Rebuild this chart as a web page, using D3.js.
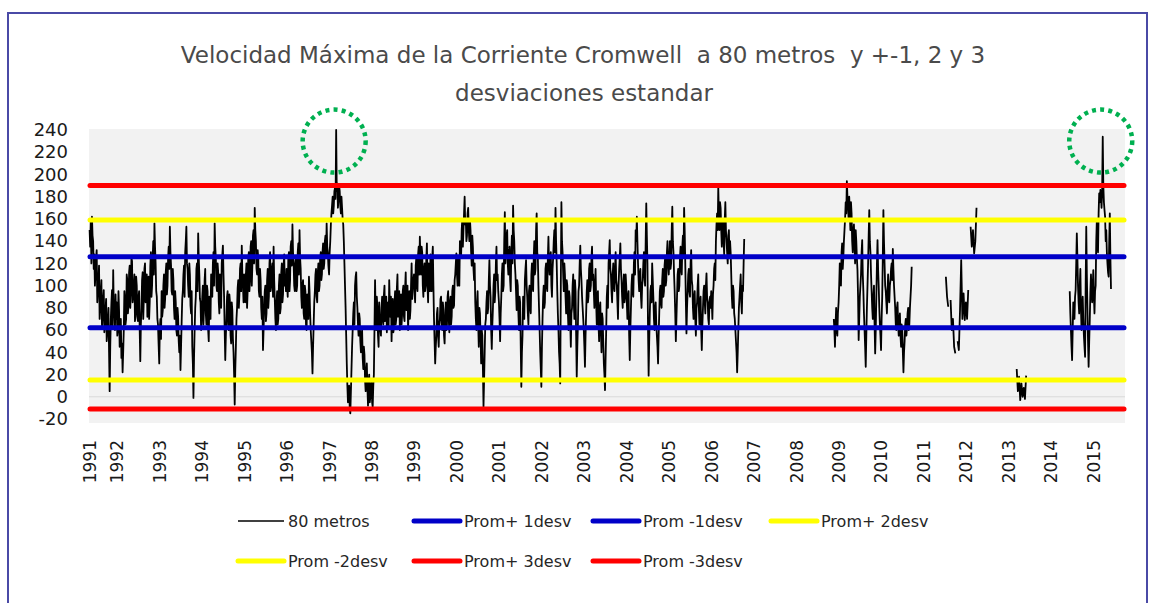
<!DOCTYPE html>
<html>
<head>
<meta charset="utf-8">
<script src="https://cdn.jsdelivr.net/npm/d3@7/dist/d3.min.js"></script>
<style>
body { margin: 0; background: #fff; }
svg { display: block; }
</style>
</head>
<body>
<div id="chart"></div>
<script>
// velocidad maxima a 80 m, 36 valores por año (aprox. cada 10 dias), null = sin dato
var v1991 = [null,null,null,null,null,null,null,null,null,null,null,null,null,
	150,158,162,140,128,110,132,95,118,80,105,72,96,66,88,58,80,5,70,96,114,75,92];
var v1992 = [85,60,78,50,35,22,60,88,70,105,82,118,95,122,90,110,75,100,68,95,32,80,112,88,120,95,72,108,85,130,100,140,156,120,90,65];
var v1993 = [30,70,95,78,110,88,120,100,135,153,118,92,105,70,85,55,72,40,24,68,95,118,130,153,115,90,110,75,45,-1,60,90,120,147,110,85];
var v1994 = [70,100,80,115,65,95,50,85,110,90,130,156,125,95,112,75,100,120,136,90,33,70,95,60,85,48,78,40,-7,45,80,105,92,120,136,100];
var v1995 = [110,85,120,95,130,105,140,118,150,170,140,110,125,90,105,70,42,80,100,75,115,90,130,100,120,135,88,60,95,70,110,80,120,92,128,105];
var v1996 = [115,90,130,105,140,155,120,95,125,100,138,150,115,80,105,70,95,60,88,108,75,50,21,65,95,115,85,120,100,130,110,138,120,145,156,130];
var v1997 = [110,140,165,180,172,188,240,192,178,185,165,170,155,120,80,30,-5,10,-15,25,60,85,100,112,80,55,70,40,60,25,38,5,30,-8,20,0];
var v1998 = [15,-9,20,105,60,80,45,70,55,90,65,100,75,58,85,105,72,50,88,62,95,70,110,80,60,92,75,100,68,112,85,60,95,78,120,100];
var v1999 = [110,85,125,95,135,144,110,130,90,120,100,138,85,115,128,95,135,70,30,55,80,45,70,90,60,78,48,85,65,95,58,90,72,100,82,110];
var v2000 = [129,100,115,140,125,160,150,180,160,145,170,140,150,118,135,105,85,60,95,45,75,30,55,-9,40,70,95,80,123,90,43,80,110,95,135,110];
var v2001 = [85,50,90,120,100,166,130,150,110,135,95,145,172,140,110,78,100,60,85,9,55,85,105,123,90,65,100,75,120,95,140,115,165,125,80,40];
var v2002 = [9,70,100,85,120,95,144,110,130,90,125,150,170,120,75,40,12,175,130,95,110,75,100,60,90,45,80,110,70,95,18,65,100,136,105,80];
var v2003 = [60,27,75,105,90,120,100,135,110,80,115,65,95,50,85,40,70,30,6,60,100,120,141,110,85,120,95,130,100,70,115,138,105,80,110,90];
var v2004 = [100,70,95,33,80,110,90,130,150,162,120,95,115,80,105,130,100,174,120,19,75,100,120,90,60,85,55,30,75,100,80,115,95,125,105,140];
var v2005 = [110,140,120,171,130,95,50,90,115,100,135,110,145,170,120,57,95,115,90,132,100,70,95,55,85,110,65,90,42,80,100,75,111,85,65,90];
var v2006 = [95,70,100,120,140,165,188,150,170,135,160,128,175,140,120,150,140,110,80,95,70,50,22,60,90,110,75,95,142,
	null,null,null,null,null,null,null];
var v2007 = [];
var v2008 = [null,null,null,null,null,null,null,null,null,null,null,null,null,null,null,null,
	null,null,null,null,null,null,null,null,null,null,null,null,null,null,null,null,70,45,80,55];
var v2009 = [85,120,100,138,125,150,175,194,170,180,150,165,130,155,120,140,114,51,90,110,141,95,60,27,80,120,168,130,95,70,100,39,90,141,100,65];
var v2010 = [42,90,168,120,95,75,110,85,105,120,133,100,80,60,85,55,75,45,60,22,50,70,62,80,65,90,117,
	null,null,null,null,null,null,null,null,null];
var v2011 = [null,null,null,null,null,null,null,null,null,null,null,null,null,null,null,null,null,null,null,
	108,90,81,null,87,60,70,45,39,null,50,42,78,123,70,93,69];
var v2012 = [85,70,96,null,153,135,150,129,140,170,
	null,null,null,null,null,null,null,null,null,null,null,null,null,null,null,null,null,null,null,null,null,null,null,null,null,null];
var v2013 = [null,null,null,null,null,null,null,25,5,18,-3,12,0,8,-2,19,
	null,null,null,null,null,null,null,null,null,null,null,null,null,null,null,null,null,null,null,null];
var v2014 = [null,null,null,null,null,null,null,null,null,null,null,null,null,null,null,null,
	95,60,33,85,70,96,147,100,75,115,60,90,55,36,153,80,27,70,110,85];
var v2015 = [114,75,100,159,130,183,186,170,234,175,162,150,120,108,165,97,
	null,null,null,null,null,null,null,null,null,null,null,null,null,null,null,null,null,null,null,null];

// lecturas intermedias (medio paso despues de cada valor anterior)
var w1991 = [null,null,null,null,null,null,null,null,null,null,null,null,null,
	135,120,145,115,100,125,85,105,70,95,62,88,58,78,50,70,40,45,85,62,80,60,70];
var w1992 = [55,95,45,70,48,40,95,65,110,75,112,80,125,85,100,68,108,72,90,60,65,105,70,115,85,110,90,70,118,90,125,110,135,95,70,48];
var w1993 = [62,52,72,100,80,112,92,125,115,130,95,115,80,95,60,80,50,55,45,88,110,90,140,120,100,120,82,95,30,35,80,115,95,125,88,60];
var w1994 = [90,65,105,75,100,60,90,70,95,120,100,135,100,120,85,110,80,128,110,60,55,90,65,92,55,85,52,20,25,70,98,80,115,95,110,85];
var w1995 = [90,110,80,125,95,135,100,145,120,150,115,132,95,115,80,90,60,95,68,105,80,120,95,115,90,105,70,85,65,100,75,112,85,118,100,95];
var w1996 = [100,125,95,135,118,130,100,120,95,130,110,125,90,100,75,100,65,92,70,95,60,40,45,85,110,90,112,95,125,105,130,115,140,125,135,118];
var w1997 = [130,155,172,165,185,178,185,170,190,172,180,160,140,100,55,10,5,-10,5,45,75,65,108,90,65,75,50,55,35,45,15,22,8,12,-5,10];
var w1998 = [-5,10,60,75,90,55,85,62,80,70,92,68,90,80,62,85,90,75,58,85,65,98,72,95,80,65,95,72,98,78,100,82,70,100,88,105];
var w1999 = [95,118,100,128,110,125,135,100,115,95,125,100,120,95,110,125,100,50,45,75,55,65,88,65,85,55,70,60,90,70,85,65,95,80,105,120];
var w2000 = [110,125,100,130,150,135,165,155,140,165,150,160,130,145,115,120,70,85,65,80,55,60,25,15,65,85,75,105,100,60,65,100,85,120,105,95];
var w2001 = [70,75,110,95,140,120,145,120,130,105,130,120,150,120,95,105,75,90,45,40,90,70,115,100,75,95,80,110,100,125,110,150,130,100,60,25];
var w2002 = [45,90,80,115,100,125,120,125,100,115,140,130,140,95,60,30,100,140,110,120,90,105,75,95,65,75,100,85,105,55,45,95,120,115,90,70];
var w2003 = [45,55,95,85,115,95,125,105,95,100,85,90,65,80,60,75,50,20,35,90,80,130,115,95,110,100,115,105,85,100,125,115,90,100,85,110];
var w2004 = [85,90,55,60,100,95,120,110,140,140,105,110,90,100,120,110,140,145,60,50,95,85,105,70,80,65,45,55,95,85,105,90,118,100,130,120];
var w2005 = [125,115,150,140,110,75,70,110,95,125,115,135,125,150,85,80,110,95,120,105,80,90,70,80,100,80,85,60,65,95,85,100,90,70,85,80];
var w2006 = [85,92,115,105,155,150,165,175,150,160,140,160,150,130,145,125,130,90,100,75,60,40,40,80,100,85,100,120,
	null,null,null,null,null,null,null,null];
var w2007 = [];
var w2008 = [null,null,null,null,null,null,null,null,null,null,null,null,null,null,null,null,
	null,null,null,null,null,null,null,null,null,null,null,null,null,null,null,null,60,65,62,75];
var w2009 = [100,105,130,115,140,160,165,180,160,165,175,140,150,135,150,125,90,70,100,130,110,75,45,55,100,145,140,110,80,90,65,60,120,115,80,55];
var w2010 = [70,125,140,100,85,95,90,100,115,105,115,90,65,80,65,70,55,65,40,40,65,55,75,60,80,100,
	null,null,null,null,null,null,null,null,null,null];
var w2011 = [];
var w2012 = [];
var w2013 = [];
var w2014 = [null,null,null,null,null,null,null,null,null,null,null,null,null,null,null,null,
	75,45,60,75,90,120,125,85,100,80,75,70,45,100,110,50,50,95,95,100];
var w2015 = [90,95,140,140,165,175,180,185,190,168,140,130,112,140,125,
	null,null,null,null,null,null,null,null,null,null,null,null,null,null,null,null,null,null,null,null,null];

var anios = [1991,1992,1993,1994,1995,1996,1997,1998,1999,2000,2001,2002,2003,2004,2005,2006,2007,2008,2009,2010,2011,2012,2013,2014,2015];
var serie80m = [v1991,v1992,v1993,v1994,v1995,v1996,v1997,v1998,v1999,v2000,v2001,v2002,v2003,v2004,v2005,v2006,v2007,v2008,v2009,v2010,v2011,v2012,v2013,v2014,v2015];
var serieMedia = [w1991,w1992,w1993,w1994,w1995,w1996,w1997,w1998,w1999,w2000,w2001,w2002,w2003,w2004,w2005,w2006,w2007,w2008,w2009,w2010,w2011,w2012,w2013,w2014,w2015];

// niveles: Prom+1, Prom-1, Prom+2, Prom-2, Prom+3, Prom-3 desviaciones
var niveles = [126, 62, 159, 15, 190, -11];
var nombres = ["80 metros", "Prom+ 1desv", "Prom -1desv", "Prom+ 2desv", "Prom -2desv", "Prom+ 3desv", "Prom -3desv"];
var ticksY = [-20, 0, 20, 40, 60, 80, 100, 120, 140, 160, 180, 200, 220, 240];
var aniosPico = [1997, 2015];

var colores = ["#000000", "#0000c8", "#0000c8", "#ffff00", "#ffff00", "#ff0000", "#ff0000"];

var paso = 365.25 / 36;
var puntos = [];
for(var k = 0; k < anios.length; k++) {
	var vals = serie80m[k];
	var meds = serieMedia[k];
	var ini = new Date(anios[k], 0, 1);
	for(var i = 0; i < vals.length; i++) {
		puntos.push({fecha: d3.timeHour.offset(ini, Math.round(i * paso * 24)), valor: vals[i]});
		if(meds.length > 0) {
			puntos.push({fecha: d3.timeHour.offset(ini, Math.round((i + 0.5) * paso * 24)), valor: meds[i]});
		}
	}
}
var conDato = puntos.filter(function(d) { return d.valor !== null; });

var width = 1155, height = 603;
var svg = d3.select("#chart").append("svg")
	.attr("width", width)
	.attr("height", height);

// marco
svg.append("rect")
	.attr("x", 8).attr("y", 13)
	.attr("width", 1139).attr("height", 600)
	.attr("fill", "none")
	.attr("stroke", "#4a4aa6")
	.attr("stroke-width", 2);

// titulo
svg.append("text")
	.attr("x", 583).attr("y", 63)
	.attr("text-anchor", "middle")
	.attr("xml:space", "preserve")
	.attr("style", "font-family:'DejaVu Sans'; font-size:23px; fill:#4a4a4a; white-space:pre;")
	.text("Velocidad Máxima de la Corriente Cromwell  a 80 metros  y +-1, 2 y 3");
svg.append("text")
	.attr("x", 584).attr("y", 101)
	.attr("text-anchor", "middle")
	.attr("style", "font-family:'DejaVu Sans'; font-size:23px; fill:#4a4a4a;")
	.text("desviaciones estandar");

var x_scale = d3.scaleTime()
	.domain([new Date(1992, 0, 1), new Date(2015, 0, 1)])
	.range([116.7, 1093.3]);
var y_scale = d3.scaleLinear()
	.domain([-20, 240])
	.range([419, 130]);

var plotLeft = 89, plotRight = 1125;

svg.append("rect")
	.attr("x", plotLeft).attr("y", 129)
	.attr("width", plotRight - plotLeft).attr("height", 294)
	.attr("fill", "#f2f2f2");

svg.append("line")
	.attr("x1", plotLeft).attr("x2", plotRight)
	.attr("y1", y_scale(0)).attr("y2", y_scale(0))
	.attr("stroke", "#d9d9d9")
	.attr("stroke-width", 1);

// eje y
var yAxis = d3.axisLeft(y_scale)
	.tickValues(ticksY)
	.tickSize(0)
	.tickPadding(0)
	.tickFormat(function(d) { return String(d); });
var gy = svg.append("g")
	.attr("class", "y_axis")
	.attr("transform", "translate(68,0)")
	.call(yAxis);
gy.select(".domain").remove();
gy.attr("font-family", "DejaVu Sans").attr("font-size", 18);
gy.selectAll("text").attr("fill", "#1a1a1a");

// eje x
var tickFechas = [conDato[0].fecha];
for(var a = 1; a < anios.length; a++) {
	tickFechas.push(new Date(anios[a], 0, 1));
}
var xAxis = d3.axisBottom(x_scale).tickValues(tickFechas).tickSize(0).tickFormat(d3.timeFormat("%Y"));
var gx = svg.append("g")
	.attr("class", "x_axis")
	.attr("transform", "translate(0,440)")
	.call(xAxis);
gx.select(".domain").remove();
gx.attr("font-family", "DejaVu Sans").attr("font-size", 17);
gx.selectAll("text")
	.attr("fill", "#1a1a1a")
	.attr("transform", "rotate(-90)")
	.attr("text-anchor", "end")
	.attr("x", 0)
	.attr("y", 0)
	.attr("dy", "0.35em");

// serie 80 metros
var linea = d3.line()
	.defined(function(d) { return d.valor !== null; })
	.x(function(d) { return x_scale(d.fecha); })
	.y(function(d) { return y_scale(d.valor); });
svg.append("path")
	.datum(puntos)
	.attr("fill", "none")
	.attr("stroke", "#000")
	.attr("stroke-width", 1.8)
	.attr("stroke-linejoin", "round")
	.attr("d", linea);

// lineas de desviacion
svg.selectAll("line.nivel")
	.data(niveles)
	.enter()
	.append("line")
	.attr("class", "nivel")
	.attr("x1", plotLeft + 1)
	.attr("x2", plotRight - 1)
	.attr("y1", function(d) { return y_scale(d); })
	.attr("y2", function(d) { return y_scale(d); })
	.attr("stroke", function(d, i) { return colores[i + 1]; })
	.attr("stroke-width", 5)
	.attr("stroke-linecap", "round");

// circulos en los picos
aniosPico.forEach(function(anio) {
	var vals = serie80m[anios.indexOf(anio)];
	var maxV = d3.max(vals);
	var idx = vals.indexOf(maxV);
	var f = d3.timeHour.offset(new Date(anio, 0, 1), Math.round(idx * paso * 24));
	svg.append("circle")
		.attr("cx", x_scale(f) - 2)
		.attr("cy", y_scale(230))
		.attr("r", 31.5)
		.attr("fill", "none")
		.attr("stroke", "#00b050")
		.attr("stroke-width", 4.5)
		.attr("stroke-dasharray", "4 4.2");
});

// leyenda
var legX = [236, 412, 591, 769, 236, 412, 591];
var legY = [521, 521, 521, 521, 561, 561, 561];
var leg = svg.selectAll("g.leg")
	.data(nombres)
	.enter()
	.append("g")
	.attr("class", "leg")
	.attr("transform", function(d, i) { return "translate(" + legX[i] + "," + legY[i] + ")"; });
leg.append("line")
	.attr("x1", 2).attr("x2", 48)
	.attr("y1", 0).attr("y2", 0)
	.attr("stroke", function(d, i) { return colores[i]; })
	.attr("stroke-width", function(d, i) { return i == 0 ? 1.5 : 5; })
	.attr("stroke-linecap", function(d, i) { return i == 0 ? "butt" : "round"; });
leg.append("text")
	.attr("x", 52)
	.attr("y", 0)
	.attr("dy", "0.36em")
	.attr("style", "font-family:'DejaVu Sans'; font-size:16px; fill:#262626;")
	.text(function(d) { return d; });
</script>
</body>
</html>
